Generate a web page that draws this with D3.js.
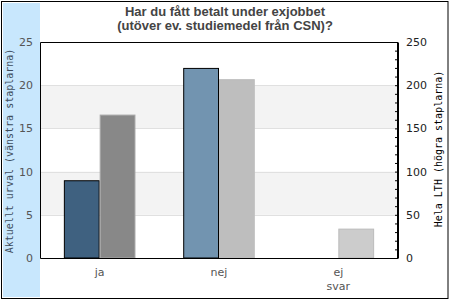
<!DOCTYPE html>
<html>
<head>
<meta charset="utf-8">
<script src="https://cdn.jsdelivr.net/npm/d3@7"></script>
<style>
  body { margin: 0; background: #fff; }
  svg { display: block; }
</style>
</head>
<body>
<svg id="chart" width="450" height="300"></svg>
<script>
const categories = ['ja', 'nej', 'ej svar'];
const urvalValues = [9, 22, 0];          // left axis
const lthValues = [166, 207, 34];        // right axis
const leftTicks = [0, 5, 10, 15, 20, 25];
const rightTicks = [0, 50, 100, 150, 200, 250];
const titleLines = ['Har du fått betalt under exjobbet', '(utöver ev. studiemedel från CSN)?'];

const urvalFill = ['#3f6180', '#7294b0', '#a9c2d6'];
const lthFill = ['#888888', '#bebebe', '#cccccc'];
const lthStroke = ['#a8a8a8', '#bebebe', '#bbbbbb'];

const W = 450, H = 300;
const margin = {top: 42, right: 52, bottom: 42, left: 40};
const width = W - margin.left - margin.right;
const height = H - margin.top - margin.bottom;

const svg = d3.select('#chart');

// side panel + outer frame
svg.append('rect').attr('x', 3).attr('y', 3).attr('width', 37).attr('height', 294).attr('fill', '#c8e7fd');
svg.append('rect').attr('x', 1.5).attr('y', 1.5).attr('width', 446.5).attr('height', 297)
  .attr('fill', 'none').attr('stroke', '#000');

const x0 = d3.scaleBand().domain(categories).range([0, width]);
const x1 = d3.scaleBand().domain(['urval', 'lth']).range([0, x0.bandwidth() * 0.6]);
const yL = d3.scaleLinear().domain([0, 25]).range([height, 0]);
const yR = d3.scaleLinear().domain([0, 250]).range([height, 0]);

const g = svg.append('g').attr('transform', `translate(${margin.left},${margin.top})`);

// alternating bands
[[5, 10], [15, 20]].forEach(b => {
  g.append('rect').attr('x', 0).attr('width', width)
    .attr('y', yL(b[1])).attr('height', yL(b[0]) - yL(b[1]))
    .attr('fill', '#f3f3f3');
});
g.selectAll('.grid').data(leftTicks.slice(1, -1)).enter().append('line')
  .attr('x1', 0).attr('x2', width)
  .attr('y1', d => Math.round(yL(d)) + 0.5).attr('y2', d => Math.round(yL(d)) + 0.5)
  .attr('stroke', '#e0e0e0');

const off = x0.bandwidth() * 0.2;
const grp = g.selectAll('.cat').data(categories).enter().append('g')
  .attr('transform', d => `translate(${x0(d) + off},0)`);

grp.filter((d, i) => urvalValues[i] > 0).append('rect')
  .attr('x', x1('urval') + 0.5)
  .attr('width', x1.bandwidth() - 1)
  .attr('y', d => yL(urvalValues[categories.indexOf(d)]) + 0.5)
  .attr('height', d => height - yL(urvalValues[categories.indexOf(d)]) - 0.5)
  .attr('fill', d => urvalFill[categories.indexOf(d)])
  .attr('stroke', '#000');

grp.append('rect')
  .attr('x', x1('lth') + 0.5)
  .attr('width', x1.bandwidth() - 1)
  .attr('y', d => yR(lthValues[categories.indexOf(d)]) + 0.5)
  .attr('height', d => height - yR(lthValues[categories.indexOf(d)]) - 0.5)
  .attr('fill', d => lthFill[categories.indexOf(d)])
  .attr('stroke', d => lthStroke[categories.indexOf(d)]);

// left axis: labels only
const leftAxis = g.append('g')
  .call(d3.axisLeft(yL).tickValues(leftTicks).tickSize(0).tickPadding(7));
leftAxis.select('.domain').remove();
leftAxis.selectAll('text').attr('fill', '#555').style('font', '11px "DejaVu Sans"');

// right axis: inward ticks
const rightAxis = g.append('g').attr('transform', `translate(${width},0)`)
  .call(d3.axisRight(yR).tickValues(d3.range(0, 251, 10)).tickSizeInner(-3).tickSizeOuter(0)
    .tickPadding(8).tickFormat(d => rightTicks.includes(d) ? d : ''));
rightAxis.select('.domain').attr('stroke', '#000');
rightAxis.selectAll('line').attr('stroke', '#000');
rightAxis.selectAll('text').attr('fill', '#222').style('font', '11px "DejaVu Sans"');

// frame
g.append('path')
  .attr('d', `M0.5,${height + 0.5}V0.5H${width - 0.5}V${height + 0.5}Z`)
  .attr('fill', 'none').attr('stroke', '#000');

// x labels
const xl = g.selectAll('.xl').data(categories).enter().append('text')
  .attr('x', d => x0(d) + x0.bandwidth() / 2)
  .attr('y', height + 18)
  .attr('text-anchor', 'middle')
  .attr('fill', '#555')
  .style('font', '11px "DejaVu Sans"');
xl.selectAll('tspan').data(d => d.split(' ')).enter().append('tspan')
  .attr('x', function() { return this.parentNode.getAttribute('x'); })
  .attr('dy', (d, i) => i ? 14 : 0)
  .text(d => d);

// title
svg.append('text')
  .attr('x', 225).attr('y', 16)
  .attr('text-anchor', 'middle')
  .attr('fill', '#444')
  .style('font', 'bold 13px "Liberation Sans", Arial, sans-serif')
  .selectAll('tspan').data(titleLines).enter().append('tspan')
  .attr('x', 225).attr('dy', (d, i) => i ? 14 : 0)
  .text(d => d);

// axis titles
svg.append('text')
  .attr('transform', `translate(13,${margin.top + height / 2 + 1}) rotate(-90)`)
  .attr('text-anchor', 'middle')
  .attr('fill', '#3d4c5c')
  .style('font', '10px "DejaVu Sans Mono", monospace')
  .text('Aktuellt urval (vänstra staplarna)');

svg.append('text')
  .attr('transform', `translate(442,${margin.top + height / 2 - 1}) rotate(-90)`)
  .attr('text-anchor', 'middle')
  .attr('fill', '#000')
  .style('font', '10px "DejaVu Sans Mono", monospace')
  .text('Hela LTH (högra staplarna)');
</script>
</body>
</html>
